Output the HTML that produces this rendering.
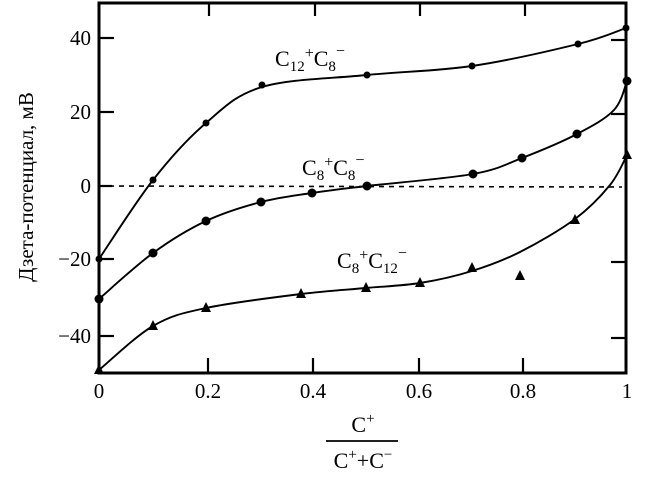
<!DOCTYPE html>
<html><head><meta charset="utf-8"><style>
html,body{margin:0;padding:0;background:#fff;}
svg{display:block;font-family:"Liberation Serif",serif;}
</style></head><body>
<svg id="s" width="654" height="478" viewBox="0 0 654 478" xmlns="http://www.w3.org/2000/svg">
<rect x="99" y="3" width="527" height="370" fill="none" stroke="#000" stroke-width="3"/>
<g stroke="#000" stroke-width="2.2">
<line x1="99" y1="38" x2="114" y2="38"/><line x1="99" y1="112" x2="114" y2="112"/><line x1="99" y1="186" x2="112" y2="186"/><line x1="99" y1="259" x2="114" y2="259"/><line x1="99" y1="336" x2="114" y2="336"/>
<line x1="626" y1="40" x2="611" y2="40"/><line x1="626" y1="114" x2="611" y2="114"/><line x1="626" y1="262" x2="611" y2="262"/><line x1="626" y1="338" x2="611" y2="338"/>
<line x1="209" y1="3" x2="209" y2="16"/><line x1="315" y1="3" x2="315" y2="16"/><line x1="420" y1="3" x2="420" y2="16"/><line x1="525" y1="3" x2="525" y2="16"/>
<line x1="208" y1="373" x2="208" y2="358"/><line x1="313" y1="373" x2="313" y2="358"/><line x1="419" y1="373" x2="419" y2="358"/><line x1="523" y1="373" x2="523" y2="358"/>
</g>
<line x1="99" y1="186" x2="622" y2="187" stroke="#000" stroke-width="1.6" stroke-dasharray="5,5"/>
<g id="curves" fill="none" stroke="#000" stroke-width="1.9"></g>
<g id="marks" fill="#000"></g>
<g font-size="21" text-anchor="end">
<text x="91" y="45">40</text><text x="91" y="119">20</text><text x="91" y="193">0</text><text x="91" y="266">−20</text><text x="91" y="343">−40</text>
</g>
<g font-size="21" text-anchor="middle">
<text x="99" y="398">0</text><text x="208" y="398">0.2</text><text x="313" y="398">0.4</text><text x="419" y="398">0.6</text><text x="523" y="398">0.8</text><text x="627" y="398">1</text>
</g>
<text transform="translate(33,187) rotate(-90)" font-size="21" text-anchor="middle">Дзета-потенциал, мВ</text>
<text x="363" y="432" font-size="22" text-anchor="middle">C<tspan font-size="15" dy="-9">+</tspan></text>
<line x1="326" y1="441" x2="398" y2="441" stroke="#000" stroke-width="1.8"/>
<text x="363" y="468" font-size="22" text-anchor="middle">C<tspan font-size="15" dy="-9">+</tspan><tspan dy="9">+C</tspan><tspan font-size="15" dy="-9">−</tspan></text>
<text x="275" y="66" font-size="22">C<tspan font-size="15" dy="5">12</tspan><tspan font-size="16" dy="-13">+</tspan><tspan dy="8">C</tspan><tspan font-size="15" dy="5">8</tspan><tspan font-size="16" dy="-15">−</tspan></text>
<text x="302" y="175" font-size="22">C<tspan font-size="15" dy="5">8</tspan><tspan font-size="16" dy="-13">+</tspan><tspan dy="8">C</tspan><tspan font-size="15" dy="5">8</tspan><tspan font-size="16" dy="-15">−</tspan></text>
<text x="337" y="268" font-size="22">C<tspan font-size="15" dy="5">8</tspan><tspan font-size="16" dy="-13">+</tspan><tspan dy="8">C</tspan><tspan font-size="15" dy="5">12</tspan><tspan font-size="16" dy="-15">−</tspan></text>
</svg>
<script>
function cr(p){var d="M"+p[0][0]+","+p[0][1];for(var i=0;i<p.length-1;i++){var a=p[i-1]||p[i],b=p[i],c=p[i+1],e=p[i+2]||c;
d+=" C"+(b[0]+(c[0]-a[0])/6).toFixed(1)+","+(b[1]+(c[1]-a[1])/6).toFixed(1)+" "+(c[0]-(e[0]-b[0])/6).toFixed(1)+","+(c[1]-(e[1]-b[1])/6).toFixed(1)+" "+c[0]+","+c[1];}return d;}
var ns="http://www.w3.org/2000/svg",C=document.getElementById("curves"),M=document.getElementById("marks");
function path(p){var e=document.createElementNS(ns,"path");e.setAttribute("d",cr(p));C.appendChild(e);}
function dot(x,y,r){var e=document.createElementNS(ns,"circle");e.setAttribute("cx",x);e.setAttribute("cy",y);e.setAttribute("r",r);M.appendChild(e);}
function tri(x,y){var e=document.createElementNS(ns,"polygon");e.setAttribute("points",(x-5)+","+(y+4)+" "+(x+5)+","+(y+4)+" "+x+","+(y-6));M.appendChild(e);}
path([[99,259],[153,180],[206,123],[262,87],[367,75],[472,66],[578,44],[626,28]]);
[[99,259],[153,180],[206,123],[262,85],[367,75],[472,66],[578,44],[626,28]].forEach(function(p){dot(p[0],p[1],3.5)});
path([[99,299],[153,253],[206,221],[261,202],[312,193],[367,186],[473,174],[522,158],[577,134],[614,110],[627,81]]);
[[99,299],[153,253],[206,221],[261,202],[312,193],[367,186],[473,174],[522,158],[577,134],[627,81]].forEach(function(p){dot(p[0],p[1],4.5)});
path([[99,370],[153,326],[206,308],[301,294],[366,288],[420,283],[472,271],[520,252],[575,219],[610,185],[627,155]]);
[[99,370],[153,326],[206,308],[301,294],[366,288],[420,283],[472,268],[520,276],[575,220],[627,155]].forEach(function(p){tri(p[0],p[1])});
</script>
</body></html>
